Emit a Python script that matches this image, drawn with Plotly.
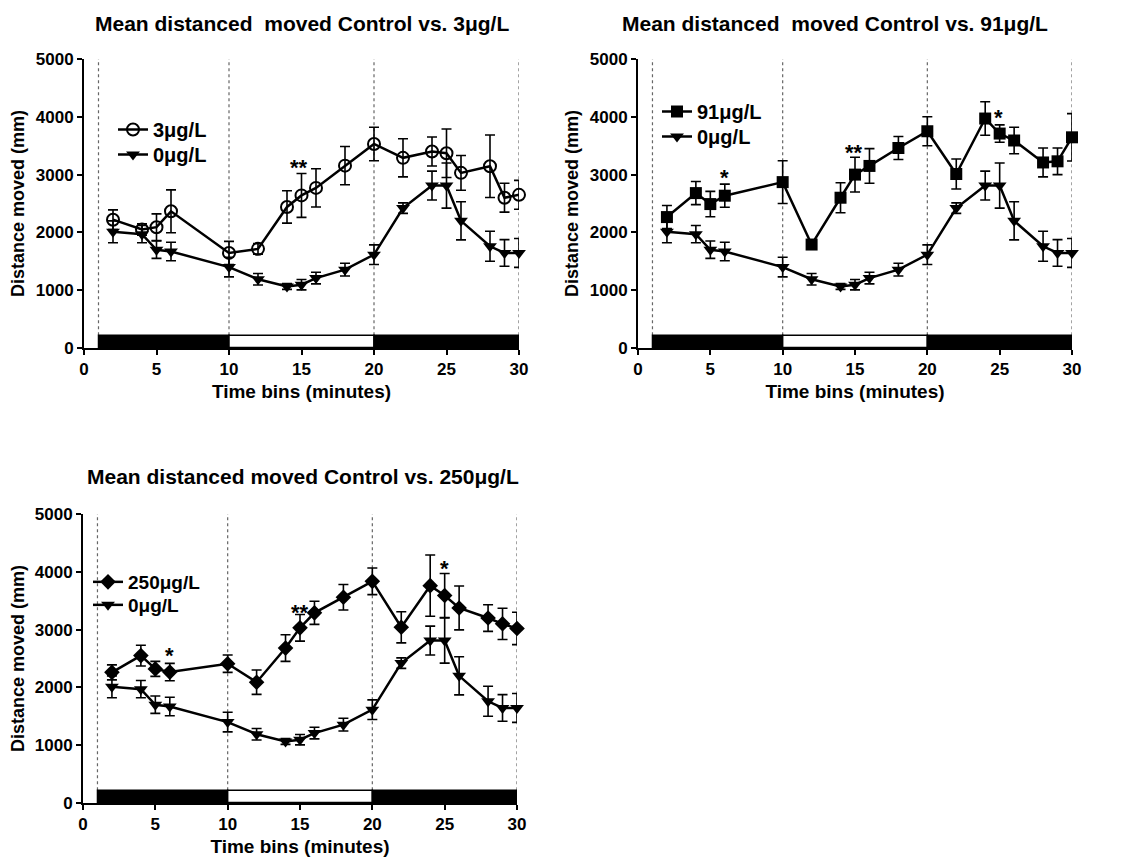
import plotly.graph_objects as go

# ---------------- data ----------------
time_bins = [2, 4, 5, 6, 10, 12, 14, 15, 16, 18, 20, 22, 24, 25, 26, 28, 29, 30]

ctrl_mean = [2010, 1970, 1700, 1670, 1400, 1190, 1065, 1095, 1210, 1355, 1615, 2420, 2810, 2810, 2200, 1760, 1645, 1645]
ctrl_err  = [190, 150, 150, 160, 170, 100, 50, 90, 100, 110, 170, 90, 250, 390, 330, 260, 230, 250]

c3_mean = [2220, 2050, 2090, 2365, 1645, 1715, 2440, 2640, 2770, 3155, 3530, 3290, 3400, 3370, 3030, 3145, 2600, 2650]
c3_err  = [170, 100, 230, 370, 200, 90, 280, 380, 330, 330, 290, 330, 250, 420, 300, 540, 250, 250]

c91_mean = [2265, 2680, 2490, 2635, 2870, 1790, 2600, 3000, 3150, 3460, 3750, 3010, 3970, 3710, 3590, 3210, 3230, 3645]
c91_err  = [200, 200, 220, 200, 370, 60, 260, 300, 300, 200, 250, 260, 290, 150, 230, 250, 230, 410]

c250_mean = [2260, 2550, 2320, 2265, 2410, 2090, 2680, 3030, 3290, 3560, 3835, 3040, 3760, 3590, 3375, 3200, 3100, 3020]
c250_err  = [130, 180, 130, 150, 150, 210, 230, 230, 200, 220, 230, 270, 530, 380, 380, 230, 270, 280]

titles = ["Mean distanced  moved Control vs. 3\u03bcg/L",
          "Mean distanced  moved Control vs. 91\u03bcg/L",
          "Mean distanced moved Control vs. 250\u03bcg/L"]
panel_letters = ["A", "B", "C"]
treat_names = ["3\u03bcg/L", "91\u03bcg/L", "250\u03bcg/L"]
ctrl_name = "0\u03bcg/L"

# significance marks: (x, y, text)
sig_A = [(14.8, 3120, "**")]
sig_B = [(6, 2950, "*"), (14.9, 3390, "**"), (24.9, 3990, "*")]
sig_C = [(6, 2550, "*"), (15, 3300, "**"), (25, 4060, "*")]

# light phases (x0, x1, colour)
light_phases = [(1, 10, "black"), (10, 20, "white"), (20, 30, "black")]
phase_lines = [1, 10, 20, 30]

x_ticks = [0, 5, 10, 15, 20, 25, 30]
y_ticks = [0, 1000, 2000, 3000, 4000, 5000]

# ---------------- figure ----------------
W, H = 1130, 860
OFF = 8  # page body margin
FONT = "Arial, Liberation Sans, sans-serif"

fig = go.Figure()

panels = [
    dict(xa="x", ya="y", xd=(84, 519), yd=(59, 348), mean=c3_mean, err=c3_err, sym="circle-open",
         msize=12, lgs=("legend", "legend2"), sig=sig_A, tpos=(93, 23), legx=113, legrows=(128, 153), lgf=20),
    dict(xa="x2", ya="y2", xd=(638, 1072), yd=(59, 348), mean=c91_mean, err=c91_err, sym="square",
         msize=12, lgs=("legend3", "legend4"), sig=sig_B, tpos=(620, 23), legx=657, legrows=(110, 135), lgf=20),
    dict(xa="x3", ya="y3", xd=(83, 517), yd=(514, 803), mean=c250_mean, err=c250_err, sym="diamond",
         msize=12, lgs=("legend5", "legend6"), sig=sig_C, tpos=(85, 477), legx=88, legrows=(581, 604), lgf=19),
]


def px_x(v):
    return (v - OFF) / W


def px_y(v):
    return 1 - (v - OFF) / H


layout = dict(width=W, height=H, margin=dict(l=0, r=0, t=0, b=0, autoexpand=False),
              paper_bgcolor="white", plot_bgcolor="white", template="none",
              font=dict(family=FONT, color="black", size=14),
              showlegend=True)
annotations = []
shapes = []

for i, p in enumerate(panels):
    xa_key = "xaxis" if i == 0 else f"xaxis{i+1}"
    ya_key = "yaxis" if i == 0 else f"yaxis{i+1}"

    layout[xa_key] = dict(domain=[px_x(p["xd"][0]), px_x(p["xd"][1])], range=[0, 30], tickvals=x_ticks,
                          automargin=False,
                          showgrid=False, zeroline=False, showline=True, linecolor="black", linewidth=2,
                          ticks="outside", ticklen=5, tickwidth=2, tickcolor="black",
                          tickfont=dict(size=17, family=FONT, color="black", weight="bold"),
                          title=dict(text="<b>Time bins (minutes)</b>", font=dict(size=19, family=FONT), standoff=6),
                          anchor=p["ya"])
    layout[ya_key] = dict(domain=[px_y(p["yd"][1]), px_y(p["yd"][0])], range=[0, 5000], tickvals=y_ticks,
                          automargin=False,
                          showgrid=False, zeroline=False, showline=True, linecolor="black", linewidth=2,
                          ticks="outside", ticklen=5, tickwidth=2, tickcolor="black",
                          tickfont=dict(size=17, family=FONT, color="black", weight="bold"),
                          title=dict(text="<b>Distance moved (mm)</b>", font=dict(size=18, family=FONT), standoff=6),
                          anchor=p["xa"])

    # light/dark phase bar
    for (a, b, col) in light_phases:
        shapes.append(dict(type="rect", xref=p["xa"], yref=p["ya"], x0=a, x1=b, y0=10, y1=220,
                           fillcolor=col, line=dict(color="black", width=1.5), layer="above"))
    for xv in phase_lines:
        shapes.append(dict(type="line", xref=p["xa"], yref=p["ya"], x0=xv, x1=xv, y0=220, y1=5000,
                           line=dict(color="#666666", width=1.2, dash="dot"), layer="below"))

    is_open = p["sym"].endswith("open")
    fig.add_trace(go.Scatter(
        x=time_bins, y=p["mean"], xaxis=p["xa"], yaxis=p["ya"], name=treat_names[i],
        mode="lines+markers", legend=p["lgs"][0], cliponaxis=False,
        line=dict(color="black", width=2.5),
        marker=dict(symbol=p["sym"], size=p["msize"], color="black",
                    line=dict(color="black", width=2 if is_open else 0)),
        error_y=dict(type="data", array=p["err"], visible=True, color="black", thickness=1.6, width=5),
    ))
    fig.add_trace(go.Scatter(
        x=time_bins, y=ctrl_mean, xaxis=p["xa"], yaxis=p["ya"], name=ctrl_name,
        mode="lines+markers", legend=p["lgs"][1], cliponaxis=False,
        line=dict(color="black", width=2.5),
        marker=dict(symbol="triangle-down", size=12, color="black"),
        error_y=dict(type="data", array=ctrl_err, visible=True, color="black", thickness=1.6, width=5),
    ))

    for lg, row in zip(p["lgs"], p["legrows"]):
        layout[lg] = dict(x=px_x(p["legx"]), y=px_y(row - 18), xanchor="left", yanchor="top",
                          bgcolor="rgba(0,0,0,0)", borderwidth=0, itemwidth=30,
                          tracegroupgap=0, itemsizing="trace",
                          font=dict(size=p["lgf"], family=FONT, color="black", weight="bold"))

    annotations.append(dict(text="<b>" + panel_letters[i] + "</b>", xref=p["xa"], yref=p["ya"],
                            x=0.3, y=5020, xanchor="left", yanchor="top", showarrow=False,
                            font=dict(size=22, family=FONT, color="black")))
    annotations.append(dict(text="<b>" + titles[i] + "</b>", xref="paper", yref="paper",
                            x=px_x(p["tpos"][0]), y=px_y(p["tpos"][1]), xanchor="left", yanchor="middle",
                            showarrow=False, font=dict(size=21, family=FONT, color="black")))
    for (sx, sy, st) in p["sig"]:
        annotations.append(dict(text="<b>" + st + "</b>", xref=p["xa"], yref=p["ya"], x=sx, y=sy,
                                xanchor="center", yanchor="middle", showarrow=False,
                                font=dict(size=22, family=FONT, color="black")))

layout["annotations"] = annotations
layout["shapes"] = shapes
fig.update_layout(**layout)

fig.write_html("out.html")
